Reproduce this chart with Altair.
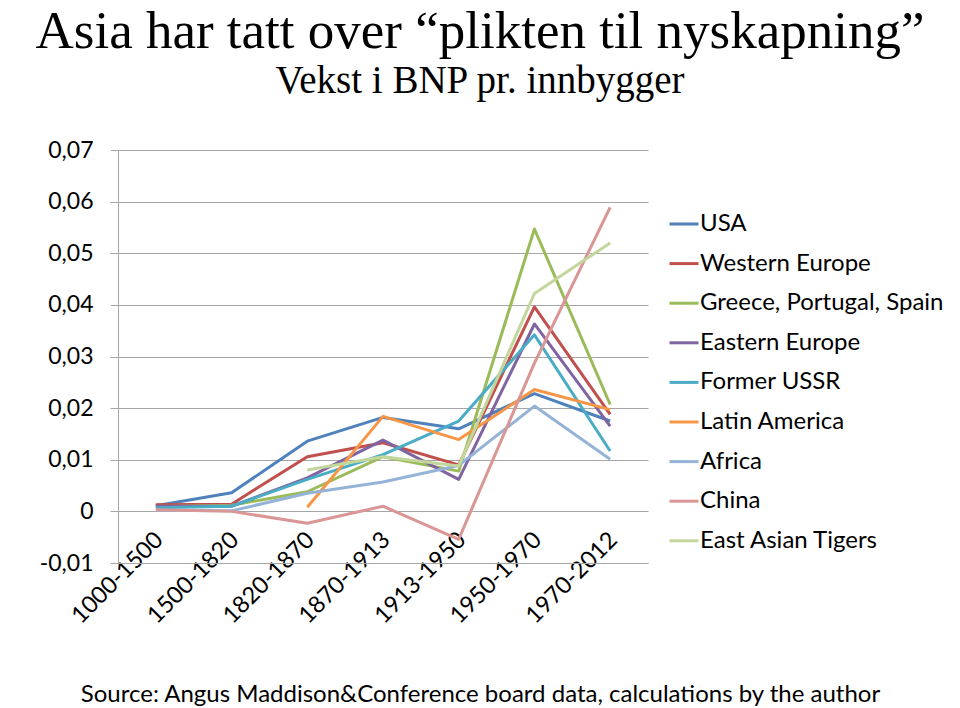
import altair as alt
import pandas as pd

periods = ["1000-1500", "1500-1820", "1820-1870", "1870-1913", "1913-1950", "1950-1970", "1970-2012"]
series = ["USA", "Western Europe", "Greece, Portugal, Spain", "Eastern Europe", "Former USSR",
          "Latin America", "Africa", "China", "East Asian Tigers"]
colors = ["#4F81BD", "#C0504D", "#9BBB59", "#8064A2", "#4BACC6", "#F79646", "#95B3D7", "#D99694", "#C3D69B"]

usa = [0.0011, 0.0036, 0.0136, 0.0182, 0.0160, 0.0228, 0.0175]
western_europe = [0.0013, 0.0014, 0.0106, 0.0133, 0.0090, 0.0396, 0.0188]
greece_portugal_spain = [0.0009, 0.0012, 0.0038, 0.0106, 0.0078, 0.0547, 0.0207]
eastern_europe = [0.0010, 0.0010, 0.0065, 0.0138, 0.0062, 0.0363, 0.0165]
former_ussr = [0.0007, 0.0010, 0.0062, 0.0110, 0.0175, 0.0342, 0.0117]
latin_america = [None, None, 0.0008, 0.0184, 0.0139, 0.0236, 0.0197]
africa = [0.0002, 0.0001, 0.0035, 0.0057, 0.0089, 0.0204, 0.0101]
china = [0.0003, 0.0000, -0.0023, 0.0010, -0.0054, 0.0287, 0.0589]
east_asian_tigers = [None, None, 0.0080, 0.0106, 0.0088, 0.0422, 0.0520]

values = [usa, western_europe, greece_portugal_spain, eastern_europe, former_ussr,
          latin_america, africa, china, east_asian_tigers]

rows = []
for si, (name, vals) in enumerate(zip(series, values)):
    for p, v in zip(periods, vals):
        if v is not None:
            rows.append({"Periode": p, "Region": name, "Vekst": v, "idx": si})
df = pd.DataFrame(rows)

FONT = "Lato"

chart = alt.Chart(df).mark_line(strokeWidth=3, strokeJoin="round").encode(
    x=alt.X("Periode:N", sort=periods,
            scale=alt.Scale(type="point", padding=0.5),
            axis=alt.Axis(title="Source: Angus Maddison&Conference board data, calculations by the author",
                          titleFont=FONT, titleFontSize=24, titleFontWeight="normal", titleColor="#000",
                          titleX=362, titleY=131, titleAlign="center", titleAnchor="middle",
                          titleBaseline="middle",
                          labelAngle=-45, labelAlign="right", labelBaseline="middle",
                          labelFont=FONT, labelFontSize=23.5, labelColor="#000", labelPadding=-27,
                          labelOffset=3, labelOverlap=False,
                          ticks=False, domainColor="#A6A6A6", domainWidth=1, grid=False)),
    y=alt.Y("Vekst:Q",
            scale=alt.Scale(domain=[-0.01, 0.07], nice=False, zero=False),
            axis=alt.Axis(title=None, values=[-0.01, 0, 0.01, 0.02, 0.03, 0.04, 0.05, 0.06, 0.07],
                          labelExpr="datum.value == 0 ? '0' : replace(replace(format(datum.value, '.2f'), '.', ','), '\u2212', '-')",
                          labelFont=FONT, labelFontSize=23, labelColor="#000", labelPadding=17,
                          tickSize=8, tickColor="#A6A6A6", domainColor="#A6A6A6",
                          gridColor="#A6A6A6", gridWidth=1)),
    color=alt.Color("Region:N", sort=series,
                    scale=alt.Scale(domain=series, range=colors),
                    legend=alt.Legend(title=None, orient="none", legendX=550, legendY=58,
                                      symbolType="stroke", symbolSize=841, symbolStrokeWidth=3,
                                      labelFont=FONT, labelFontSize=24, labelColor="#000",
                                      labelLimit=0, labelOffset=0, rowPadding=11.6, padding=0)),
    order=alt.Order("idx:Q"),
).properties(
    width=530,
    height=413,
    title=alt.TitleParams(
        text="Asia har tatt over \u201cplikten til nyskapning\u201d",
        subtitle="Vekst i BNP pr. innbygger",
        font="Liberation Serif", fontSize=53, fontWeight="normal", color="#000",
        subtitleFont="Liberation Serif", subtitleFontSize=39, subtitleColor="#000",
        subtitlePadding=3, anchor="middle", dx=97, dy=-34,
    ),
    autosize=alt.AutoSizeParams(type="none"),
    padding={"left": 110, "top": 142, "right": 304, "bottom": 145},
).configure_view(stroke=None)

chart.save("out.html", embed_options={"renderer": "svg", "actions": False})
